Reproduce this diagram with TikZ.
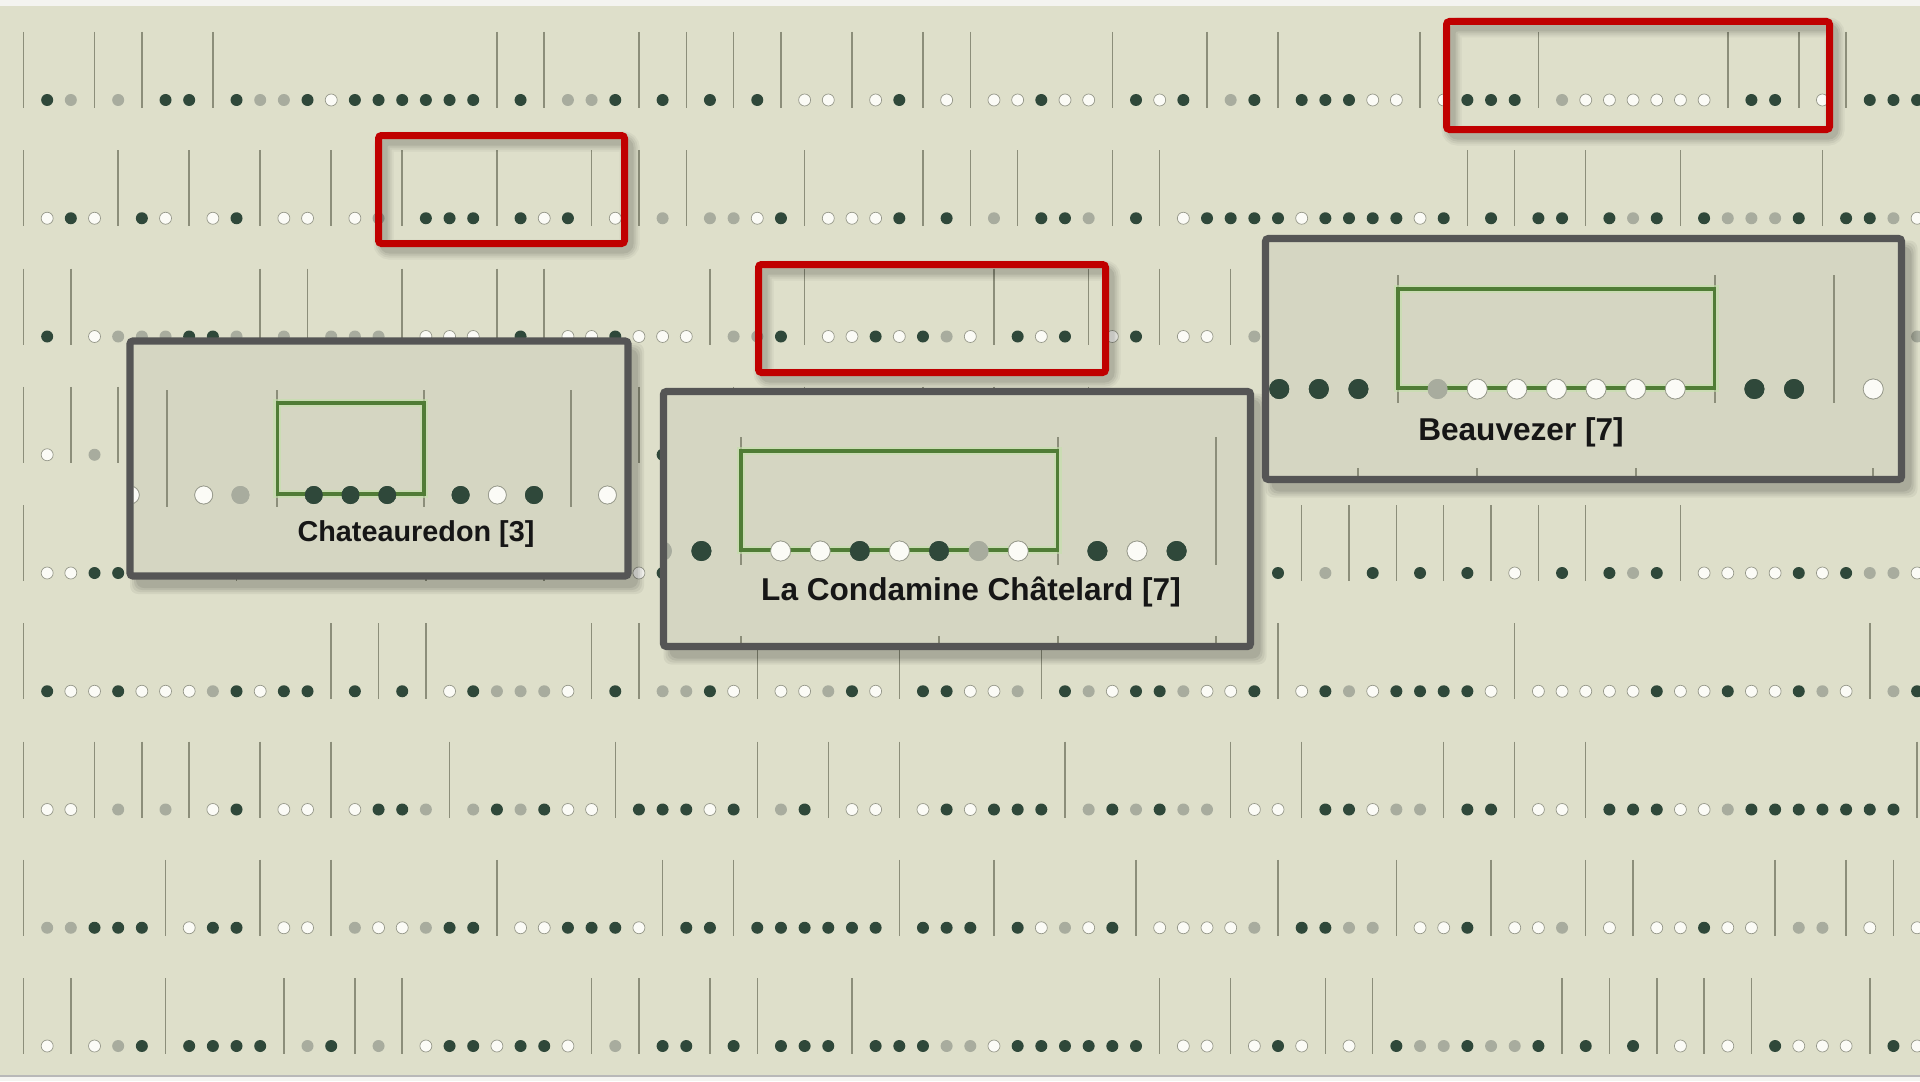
\documentclass[tikz,border=0pt]{standalone}
\usepackage{fontspec}
\setmainfont{Liberation Sans}
\definecolor{pagec}{RGB}{244,244,240}
\definecolor{bgc}{RGB}{222,223,202}
\definecolor{boxfill}{RGB}{213,214,194}
\definecolor{boxedge}{RGB}{85,85,85}
\definecolor{redc}{RGB}{192,0,0}
\definecolor{greenc}{RGB}{80,124,54}
\definecolor{glowc}{RGB}{196,224,170}
\definecolor{dotD}{RGB}{47,72,58}
\definecolor{dotG}{RGB}{168,172,158}
\definecolor{dotW}{RGB}{251,251,246}
\definecolor{dotWline}{RGB}{150,152,138}
\definecolor{sepc}{RGB}{140,142,122}
\definecolor{txtc}{RGB}{22,22,22}
\tikzset{
  dd/.style={fill=dotD},
  dg/.style={fill=dotG},
  dw/.style={fill=dotW, draw=dotWline, line width=0.35pt},
  sepline/.style={draw=sepc},
  redframe/.style={draw=redc, line width=3.5pt, rounded corners=1.5pt},
  calloutedge/.style={draw=boxedge, line width=3.6pt, rounded corners=1.5pt},
  greenrect/.style={draw=greenc, line width=1.6pt},
  greenglow/.style={draw=glowc, line width=4pt, opacity=0.6},
  lbl/.style={text=txtc, inner sep=0pt, anchor=base},
}
\newcount\slotk
\newcommand\rowgen[8]{\def\rgx{#1}\def\rgdx{#2}\def\rgy{#3}\def\rgr{#4}\def\rgt{#5}\def\rgb{#6}\def\rglw{#7}\slotk=0 \rgparse#8\relax}
\def\rgparse#1{\ifx#1\relax\else\rgslot{#1}\advance\slotk by 1 \expandafter\rgparse\fi}
\def\rgslot#1{\pgfmathsetmacro\sx{\rgx+\rgdx*\the\slotk}\csname rgs#1\endcsname}
\def\rgsD{\fill[dd] (\sx,\rgy) circle[radius=\rgr];}
\def\rgsG{\fill[dg] (\sx,\rgy) circle[radius=\rgr];}
\def\rgsW{\filldraw[dw] (\sx,\rgy) circle[radius=\rgr];}
\def\rgsN{}
\expandafter\def\csname rgs|\endcsname{\draw[sepline, line width=\rglw] (\sx,\rgy-\rgt) -- (\sx,\rgy+\rgb);}
\newcommand\redbox[4]{%
  \foreach \w/\o in {10pt/0.04,8pt/0.05,6pt/0.06,4pt/0.07}{\draw[black,opacity=\o,line width=\w,rounded corners=3pt] (#1+5,#2+6) rectangle (#3+5,#4+6);}
  \draw[redframe] (#1,#2) rectangle (#3,#4);}
\newcommand\calloutbase[4]{%
  \foreach \e/\o in {8/0.05,6/0.055,4/0.065,2/0.075}{\fill[black,opacity=\o,rounded corners=4pt] (#1+8-\e,#2+10-\e) rectangle (#3+8+\e,#4+10+\e);}
  \fill[boxfill] (#1,#2) rectangle (#3,#4);}
\begin{document}
\begin{tikzpicture}[x=0.5pt,y=-0.5pt]
\useasboundingbox (0,0) rectangle (1920,1081);
\fill[pagec] (0,0) rectangle (1920,1081);
\fill[bgc] (0,6) rectangle (1920,1075);
\fill[black!28] (0,1075) rectangle (1920,1077);
% rows
\rowgen{23.5}{23.67}{100}{3pt}{68}{8}{0.75pt}{|DG|G|DD|DGGDWDDDDDD|D|GGD|D|D|D|WW|WD|W|WWDWW|DWD|GD|DDDWW|WDDD|GWWWWWW|DD|W|DDD}
\rowgen{23.5}{23.67}{218.25}{3pt}{68}{8}{0.75pt}{|WDW|DW|WD|WW|WG|DDD|DWD|W|G|GGWD|WWWD|D|G|DDG|D|WDDDDWDDDDWD|D|DD|DGD|DGGGD|DDGW}
\rowgen{23.5}{23.67}{336.5}{3pt}{68}{8}{0.75pt}{|D|WGGGDDG|G|GGG|WWW|D|WWDWWW|GGD|WWDWDGW|DWD|WD|WW|GNNNNNNNNNNNNNNNNNNNNNNNNNNNG}
\rowgen{23.5}{23.67}{454.75}{3pt}{68}{8}{0.75pt}{|W|G|NNNNNNNNNNNNNNNNNNNNN|DNN|NN|NNNN|NN|NNN|NNNNNNNNNNNNNNNNNNNNNNNNNNNNNNNNNNNNNG}
\rowgen{23.5}{23.67}{573}{3pt}{68}{8}{0.75pt}{|WWDDNNNN|NNNNNNN|NNNN|NNNWDNNNNNNNNNNNNNNNNNNNNNNNNND|G|D|D|D|W|D|DGD|WWWWDWDGGWD}
\rowgen{23.5}{23.67}{691.25}{3pt}{68}{8}{0.75pt}{|DWWDWWWGDWDD|D|D|WDGGGW|D|GGDW|WWGDW|DDWWG|DGWDDGWWD|WDGWDDDDW|WWWWWDWWDWWDGW|GD}
\rowgen{23.5}{23.67}{809.5}{3pt}{68}{8}{0.75pt}{|WW|G|G|WD|WW|WDDG|GDGDWW|DDDWD|GD|WW|WDWDDD|GDGDGG|WW|DDWGG|DD|WW|DDDWWGDDDDDDD|}
\rowgen{23.5}{23.67}{927.75}{3pt}{68}{8}{0.75pt}{|GGDDD|WDD|WW|GWWGDD|WWDDDW|DD|DDDDDD|DDD|DWGWD|WWWWG|DDGG|WWD|WWG|W|WWDWW|GG|W|W}
\rowgen{23.5}{23.67}{1046}{3pt}{68}{8}{0.75pt}{|W|WGD|DDDD|GD|G|WDDWDDW|G|DD|D|DDD|DDDGGWDDDDDD|WW|WDW|W|DGGDGGD|D|D|W|W|DWWW|DW}
% red highlight frames
\redbox{378.5}{135.5}{624.5}{243.5}
\redbox{758.5}{264.5}{1105.5}{372.5}
\redbox{1446.5}{21.5}{1829.5}{129.5}
% callout: Chateauredon
\calloutbase{130}{341}{628}{576}
\begin{scope}
  \clip (133.6,344.6) rectangle (624.4,572.4);
  \rowgen{130.3}{36.7}{495}{4.5pt}{105}{12}{1pt}{W|WG|DDD|DWD|W}
  \draw[greenglow] (277.1,403) rectangle (423.9,494);
  \draw[greenrect] (277.1,403) rectangle (423.9,494);
  \rowgen{130.3}{36.7}{495}{4.5pt}{105}{12}{1pt}{WNWGNDDDNDWDNW}
\end{scope}
\draw[calloutedge] (130,341) rectangle (628,576);
\node[lbl, font=\bfseries\fontsize{14.4}{17}\selectfont] (chat) at (416,541.5) {Chateauredon [3]};
% callout: La Condamine
\calloutbase{663.5}{391.5}{1250.5}{646.5}
\begin{scope}
  \clip (667.1,395.1) rectangle (1246.9,642.9);
  \rowgen{661.8}{39.6}{551}{5pt}{114}{14}{1pt}{GD|WWDWDGW|DWD|}
  \foreach \tx in {741,939,1057.8,1216.2}{\draw[sepline,line width=1pt] (\tx,636) -- (\tx,650);}
  \draw[greenglow] (741,451) rectangle (1057.8,550);
  \draw[greenrect] (741,451) rectangle (1057.8,550);
  \rowgen{661.8}{39.6}{551}{5pt}{114}{14}{1pt}{GDNWWDWDGWNDWDN}
\end{scope}
\draw[calloutedge] (663.5,391.5) rectangle (1250.5,646.5);
\node[lbl, font=\bfseries\fontsize{15.8}{19}\selectfont] (cond) at (971,600) {La Condamine Châtelard [7]};
% callout: Beauvezer
\calloutbase{1265.5}{238.5}{1901.5}{479.5}
\begin{scope}
  \clip (1269.1,242.1) rectangle (1897.9,475.9);
  \rowgen{1279.2}{39.6}{389}{5pt}{114}{14}{1pt}{DDD|GWWWWWW|DD|W}
  \foreach \tx in {1358.4,1477.2,1635.6,1873.2}{\draw[sepline,line width=1pt] (\tx,468) -- (\tx,482);}
  \draw[greenglow] (1398,289) rectangle (1714.8,388);
  \draw[greenrect] (1398,289) rectangle (1714.8,388);
  \rowgen{1279.2}{39.6}{389}{5pt}{114}{14}{1pt}{DDDNGWWWWWWNDDNW}
\end{scope}
\draw[calloutedge] (1265.5,238.5) rectangle (1901.5,479.5);
\node[lbl, font=\bfseries\fontsize{15.8}{19}\selectfont] (beau) at (1521,440) {Beauvezer [7]};
\end{tikzpicture}
\end{document}
